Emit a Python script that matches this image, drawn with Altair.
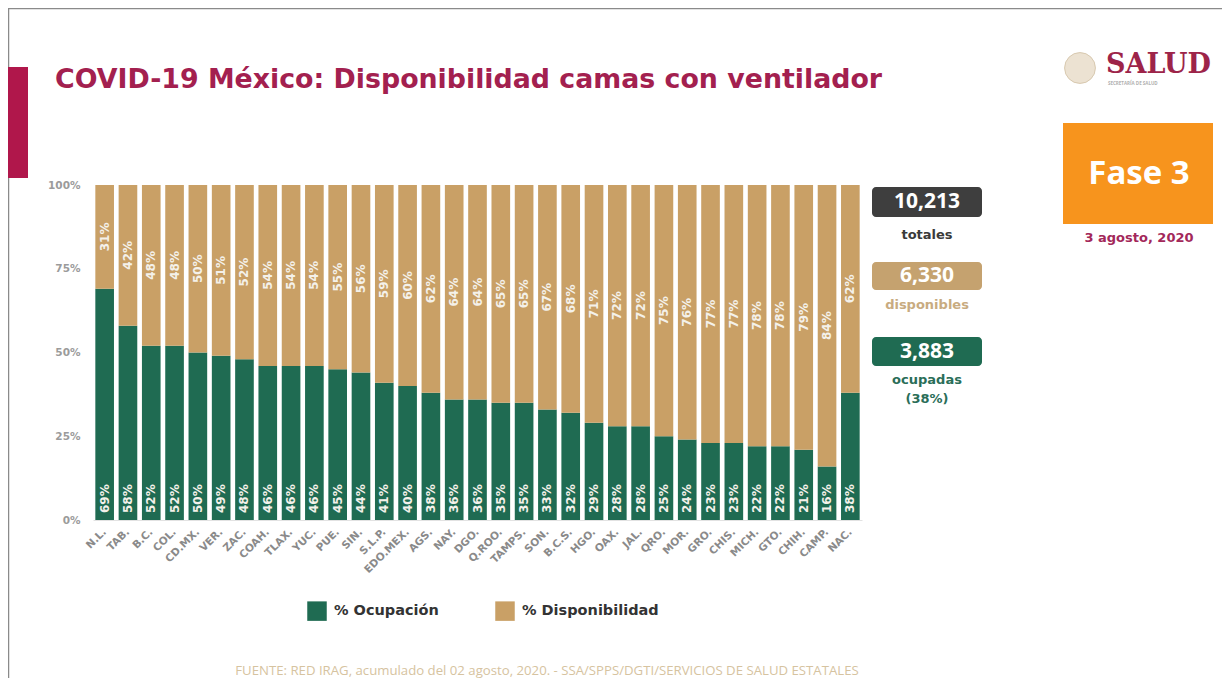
import altair as alt
import pandas as pd

# ---------------- data ----------------
estados = ["N.L.", "TAB.", "B.C.", "COL.", "CD.MX.", "VER.", "ZAC.", "COAH.", "TLAX.",
           "YUC.", "PUE.", "SIN.", "S.L.P.", "EDO.MEX.", "AGS.", "NAY.", "DGO.", "Q.ROO.",
           "TAMPS.", "SON.", "B.C.S.", "HGO.", "OAX.", "JAL.", "QRO.", "MOR.", "GRO.",
           "CHIS.", "MICH.", "GTO.", "CHIH.", "CAMP.", "NAC."]
ocupacion = [69, 58, 52, 52, 50, 49, 48, 46, 46, 46, 45, 44, 41, 40, 38, 36, 36, 35,
             35, 33, 32, 29, 28, 28, 25, 24, 23, 23, 22, 22, 21, 16, 38]
disponibilidad = [31, 42, 48, 48, 50, 51, 52, 54, 54, 54, 55, 56, 59, 60, 62, 64, 64, 65,
                  65, 67, 68, 71, 72, 72, 75, 76, 77, 77, 78, 78, 79, 84, 62]
series = ["% Ocupación", "% Disponibilidad"]
y_ticks = [0, 25, 50, 75, 100]

camas_totales = 10213
camas_disponibles = 6330
camas_ocupadas = 3883
pct_ocupadas = 38

titulo = "COVID-19 México: Disponibilidad camas con ventilador"
fase = "Fase 3"
fecha = "3 agosto, 2020"
fuente = "FUENTE: RED IRAG, acumulado del 02 agosto, 2020.  -  SSA/SPPS/DGTI/SERVICIOS DE SALUD ESTATALES"

# ---------------- styles ----------------
GREEN = "#1f6b52"
TAN = "#c9a066"
CRIMSON = "#a3204f"
FONT = "Open Sans"
WIDE = "DejaVu Sans"

rows = []
for e, o, d in zip(estados, ocupacion, disponibilidad):
    rows.append({"estado": e, "serie": series[0], "valor": o, "orden": 0,
                 "pos": 0, "etiqueta": f"{o}%"})
    rows.append({"estado": e, "serie": series[1], "valor": d, "orden": 1,
                 "pos": o + d / 2, "etiqueta": f"{d}%"})
df = pd.DataFrame(rows)

x_enc = alt.X("estado:N", sort=estados,
              scale=alt.Scale(paddingInner=0.2, paddingOuter=0.1),
              axis=alt.Axis(title=None, labelAngle=-45, labelAlign="right",
                            labelBaseline="middle", ticks=False, domain=True,
                            domainColor="#e2e2e2", labelColor="#8a8a8a",
                            labelFont=WIDE, labelFontSize=10.5, labelFontWeight="bold",
                            labelPadding=10, labelOverlap=False))

bars = alt.Chart(df).mark_bar().encode(
    x=x_enc,
    y=alt.Y("valor:Q", stack="zero",
            scale=alt.Scale(domain=[0, 100], nice=False),
            axis=alt.Axis(title=None, values=y_ticks, labelExpr="datum.value + '%'",
                          domain=False, ticks=False, grid=False,
                          labelColor="#9b9b9b", labelFont=WIDE, labelFontSize=10.5,
                          labelFontWeight="bold", labelPadding=13)),
    color=alt.Color("serie:N", scale=alt.Scale(domain=series, range=[GREEN, TAN]),
                    legend=alt.Legend(title=None, orient="none", legendX=214, legendY=416,
                                      direction="horizontal", columns=2,
                                      symbolType="square", symbolSize=380,
                                      symbolStrokeWidth=0, symbolOpacity=1,
                                      labelFont=WIDE, labelFontSize=14.5,
                                      labelFontWeight="bold", labelColor="#333333",
                                      labelOffset=7, columnPadding=56)),
    order=alt.Order("orden:Q"),
)

lab_green = alt.Chart(df).transform_filter(
    alt.datum.serie == series[0]
).mark_text(angle=270, align="left", baseline="middle", dx=7, color="#f4f1ea",
            font=WIDE, fontSize=12, fontWeight="bold").encode(
    x=alt.X("estado:N", sort=estados), y=alt.Y("pos:Q"), text="etiqueta:N")

lab_tan = alt.Chart(df).transform_filter(
    alt.datum.serie == series[1]
).mark_text(angle=270, align="center", baseline="middle", color="#f4f1ea",
            font=WIDE, fontSize=12, fontWeight="bold").encode(
    x=alt.X("estado:N", sort=estados), y=alt.Y("pos:Q"), text="etiqueta:N")

one = pd.DataFrame({"k": [0]})


def rect(x, x2, y, y2, color, radius=0):
    return alt.Chart(one).mark_rect(color=color, cornerRadius=radius).encode(
        x=alt.value(x), x2=alt.value(x2), y=alt.value(y), y2=alt.value(y2))


def text(t, x, y, size, color, weight="bold", align="center", font=FONT):
    return alt.Chart(pd.DataFrame({"t": [t]})).mark_text(
        align=align, baseline="middle", fontSize=size, color=color,
        fontWeight=weight, font=font).encode(
        x=alt.value(x), y=alt.value(y), text="t:N")


# frame and header
frame_top = alt.Chart(one).mark_rule(color="#8a8a8a", strokeWidth=1.5).encode(
    x=alt.value(-85), x2=alt.value(1129), y=alt.value(-176.5))
frame_left = alt.Chart(one).mark_rule(color="#8a8a8a", strokeWidth=1.5).encode(
    x=alt.value(-84.5), y=alt.value(-177), y2=alt.value(493))
side_bar = rect(-85, -65, -118, -7, "#b0174b")
title_t = text(titulo, -38, -105, 26.8, CRIMSON, align="left", font=WIDE)

# logo
seal = alt.Chart(one).mark_circle(size=950, color="#ece2d2", opacity=1,
                                   stroke="#d8c9b0", strokeWidth=1).encode(
    x=alt.value(987), y=alt.value(-117))
salud_t = text("SALUD", 1013, -120, 27, "#9d2449", align="left", font="DejaVu Serif")
secre_t = text("SECRETARÍA DE SALUD", 1015, -101, 4.5, "#b0b0b0", align="left")

# fase box
fase_box = rect(970, 1120, -62, 39, "#f7941d")
fase_t = text(fase, 1046, -11, 33, "white")
fecha_t = text(fecha, 1046, 53, 13, "#a3285a", font=WIDE)

# summary boxes
box1 = rect(779, 889, 2, 32, "#3e3e3e", 4)
box2 = rect(779, 889, 77, 105, "#c5a26f", 4)
box3 = rect(779, 889, 152, 181, GREEN, 4)
v1 = text(f"{camas_totales:,}", 834, 17, 21, "white")
v2 = text(f"{camas_disponibles:,}", 834, 91, 21, "white")
v3 = text(f"{camas_ocupadas:,}", 834, 167, 21, "white")
l1 = text("totales", 834, 50, 13, "#3a3a3a", font=WIDE)
l2 = text("disponibles", 834, 120, 13, "#c8ab80", font=WIDE)
l3 = text("ocupadas", 834, 195, 13, "#2a6e58", font=WIDE)
l4 = text(f"({pct_ocupadas}%)", 834, 214, 13, "#2a6e58", font=WIDE)

fuente_t = text(fuente, 454, 486, 13.2, "#d6c3a0", weight="normal")

chart = alt.layer(
    bars, lab_green, lab_tan,
    frame_top, frame_left, side_bar, title_t,
    seal, salud_t, secre_t,
    fase_box, fase_t, fecha_t,
    box1, box2, box3, v1, v2, v3, l1, l2, l3, l4,
    fuente_t,
).properties(
    width=769, height=335,
    padding={"left": 85, "top": 177, "right": 360, "bottom": 158},
    autosize=alt.AutoSizeParams(type="none"),
    background="white",
).configure_view(stroke=None)

chart.save("out.html", embed_options={"renderer": "svg", "actions": False})
